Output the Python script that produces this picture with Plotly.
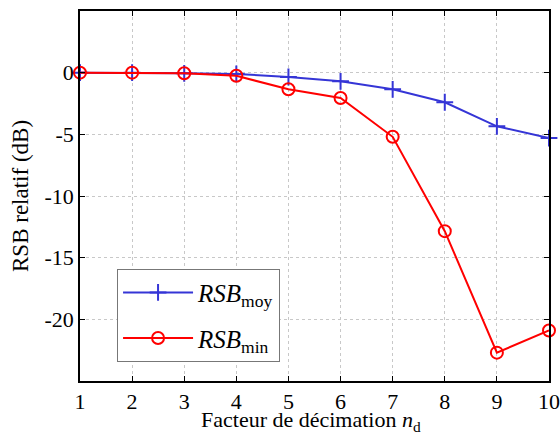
import plotly.graph_objects as go

x_nd = [1, 2, 3, 4, 5, 6, 7, 8, 9, 10]
rsb_moy = [0.0, 0.0, -0.05, -0.1, -0.35, -0.7, -1.35, -2.4, -4.35, -5.3]
rsb_min = [0.0, 0.0, -0.05, -0.25, -1.35, -2.05, -5.2, -12.85, -22.7, -20.9]
x_ticks = [1, 2, 3, 4, 5, 6, 7, 8, 9, 10]
y_ticks = [0, -5, -10, -15, -20]

FONT = "Liberation Serif"
FS = 22
TS = 22
BLUE = "#3535d6"

fig = go.Figure()
fig.add_trace(go.Scatter(
    x=x_nd, y=rsb_moy, mode="lines+markers",
    name="<i>RSB</i><sub>moy</sub>", legendgroup="moy",
    line=dict(color=BLUE, width=2),
    marker=dict(symbol="cross-thin-open", size=12, line=dict(color=BLUE, width=2)),
    cliponaxis=False,
))
fig.add_trace(go.Scatter(
    x=x_nd, y=rsb_min, mode="lines+markers",
    name="<i>RSB</i><sub>min</sub>", legendgroup="min",
    line=dict(color="red", width=2),
    marker=dict(symbol="circle-open", size=12, line=dict(color="red", width=2)),
    cliponaxis=False,
))

grid = dict(showgrid=True, gridcolor="#c8c8c8", griddash="dot", gridwidth=1,
            showline=True, linecolor="black", linewidth=1.5, mirror="allticks",
            ticks="inside", ticklen=5, tickcolor="black", zeroline=False,
            automargin=False,
            tickfont=dict(family=FONT, size=FS, color="black"))

fig.update_xaxes(range=[1, 10], tickvals=x_ticks, ticktext=[str(v) for v in x_ticks], **grid)
fig.update_yaxes(range=[-25, 5], tickvals=y_ticks, ticktext=[str(v) for v in y_ticks], **grid)

fig.add_annotation(text="Facteur de décimation <i>n</i><sub>d</sub>",
                   xref="paper", yref="paper", x=0.4925, y=-0.152,
                   xanchor="center", yanchor="bottom", showarrow=False,
                   font=dict(family=FONT, size=TS, color="black"))
fig.add_annotation(text="RSB relatif (dB)",
                   xref="paper", yref="paper", x=-0.128, y=0.5, textangle=-90,
                   xanchor="center", yanchor="middle", showarrow=False,
                   font=dict(family=FONT, size=23, color="black"))

fig.update_layout(
    width=560, height=439,
    margin=dict(l=80, r=11, t=11, b=58),
    plot_bgcolor="white", paper_bgcolor="white",
    font=dict(family=FONT, size=FS, color="black"),
    legend=dict(x=0.079, y=0.3035, xanchor="left", yanchor="top",
                bgcolor="white", bordercolor="#777", borderwidth=1,
                font=dict(family=FONT, size=25), itemwidth=70,
                tracegroupgap=10),
    showlegend=True,
)

fig.write_html("out.html", config={"displayModeBar": False},
               post_script="document.body.style.margin='0';document.body.style.overflow='hidden';")
